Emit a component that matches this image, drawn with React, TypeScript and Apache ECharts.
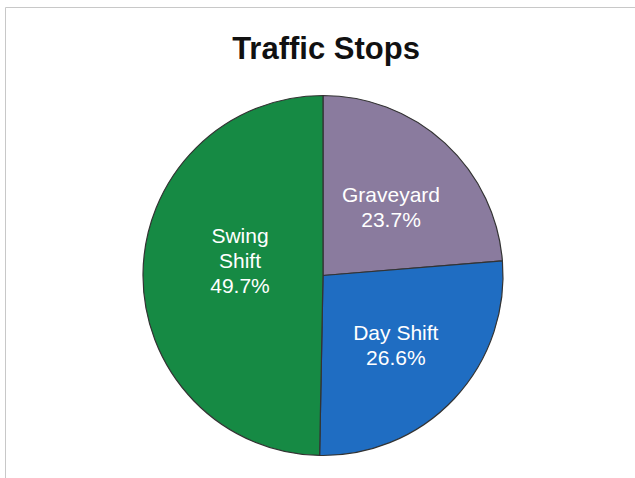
import React, { useEffect, useRef } from "react";
import * as echarts from "echarts";

const categories = ["Graveyard", "Day Shift", "Swing Shift"];
const labelNames = ["Graveyard", "Day Shift", "Swing\nShift"];
const shares = [23.7, 26.6, 49.7];
const colors = ["#8a7b9e", "#1f6dc2", "#168a44"];
const labelOffsets = [[5, 0], [5, 6], [10, -14]];

export default function App() {
  const ref = useRef<HTMLDivElement>(null);
  useEffect(() => {
    if (!ref.current) return;
    const chart = echarts.init(ref.current, null, { renderer: "svg" });
    const data = categories.map((name, i) => ({
      name,
      value: shares[i],
      itemStyle: { color: colors[i] },
      label: { offset: labelOffsets[i] },
    }));
    chart.setOption({
      animation: false,
      backgroundColor: "#ffffff",
      title: {
        text: "Traffic Stops",
        left: 321,
        top: 28,
        textAlign: "center",
        textStyle: {
          fontFamily: "Liberation Sans, Arial, sans-serif",
          fontSize: 31,
          fontWeight: "bold",
          color: "#111111",
        },
      },
      graphic: [
        {
          type: "rect",
          shape: { x: 5.5, y: 7.5, width: 640, height: 480 },
          style: { fill: "none", stroke: "#c8c8c8", lineWidth: 1 },
          silent: true,
        },
      ],
      series: [
        {
          type: "pie",
          center: [323, 275.5],
          radius: [0, 180],
          startAngle: 90,
          clockwise: true,
          avoidLabelOverlap: false,
          itemStyle: { borderColor: "#333333", borderWidth: 1.2 },
          label: {
            show: true,
            position: "inside",
            color: "#ffffff",
            fontFamily: "Liberation Sans, Arial, sans-serif",
            fontSize: 21,
            lineHeight: 25,
            formatter: (p: any) => labelNames[p.dataIndex] + "\n" + shares[p.dataIndex].toFixed(1) + "%",
          },
          labelLine: { show: false },
          emphasis: { disabled: true },
          data,
        },
      ],
    });
    return () => chart.dispose();
  }, []);
  return (
    <div
      ref={ref}
      style={{ position: "fixed", left: 0, top: 0, width: 635, height: 478 }}
    />
  );
}
